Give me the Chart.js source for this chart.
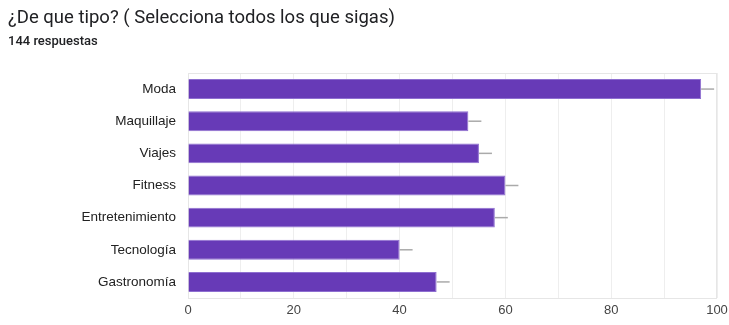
<!DOCTYPE html>
<html>
<head>
<meta charset="utf-8">
<script src="https://cdn.jsdelivr.net/npm/chart.js@4"></script>
<style>
  body { margin: 0; background: #fff; font-family: Roboto, Arial, sans-serif; }
  #wrap { position: relative; width: 729px; height: 325px; }
  #titulo { position: absolute; left: 8px; top: 6px; font-size: 18.5px; color: #202124; }
  #sub { position: absolute; left: 8px; top: 33px; font-size: 13px; color: #202124; font-weight: 500; }
  canvas { position: absolute; left: 0; top: 0; }
</style>
</head>
<body>
<div id="wrap">
  <canvas id="grafico" width="729" height="325"></canvas>
  <div id="titulo">¿De que tipo? ( Selecciona todos los que sigas)</div>
  <div id="sub">144 respuestas</div>
</div>
<script>
const categorias = ["Moda", "Maquillaje", "Viajes", "Fitness", "Entretenimiento", "Tecnología", "Gastronomía"];
const respuestas = [97, 53, 55, 60, 58, 40, 47];
const ticksX = [0, 20, 40, 60, 80, 100];

// bigotes grises al final de cada barra y marco del área
const extras = {
  id: "extras",
  beforeDatasetsDraw(chart) {
    const { ctx, chartArea: a } = chart;
    ctx.save();
    ctx.strokeStyle = "#e6e6e6";
    ctx.lineWidth = 1;
    ctx.strokeRect(a.left + 0.5, a.top + 0.5, a.right - a.left - 1, a.bottom - a.top);
    ctx.restore();
  },
  afterDatasetsDraw(chart) {
    const { ctx } = chart;
    ctx.save();
    ctx.strokeStyle = "#aaaaaa";
    ctx.lineWidth = 1.5;
    chart.getDatasetMeta(0).data.forEach((bar) => {
      ctx.beginPath();
      ctx.moveTo(bar.x, bar.y);
      ctx.lineTo(bar.x + 13, bar.y);
      ctx.stroke();
    });
    ctx.restore();
  }
};

new Chart(document.getElementById("grafico").getContext("2d"), {
  type: "bar",
  data: {
    labels: categorias,
    datasets: [{
      data: respuestas,
      backgroundColor: "#673ab7",
      borderColor: "#8e6fd0",
      borderWidth: 1,
      borderSkipped: "left",
      barPercentage: 0.62,
      categoryPercentage: 1
    }]
  },
  options: {
    indexAxis: "y",
    responsive: false,
    animation: false,
    layout: { padding: { left: 0, right: 0, top: 73, bottom: 0 } },
    plugins: { legend: { display: false }, tooltip: { enabled: false } },
    scales: {
      x: {
        min: 0,
        max: 100,
        ticks: {
          stepSize: 10,
          autoSkip: false,
          padding: 5,
          color: "#444",
          font: { family: "Liberation Sans", size: 13 },
          callback: (v) => (ticksX.includes(v) ? v : "")
        },
        grid: { color: "#eeeeee", drawTicks: false },
        border: { display: false },
        afterFit: (s) => { s.height = 27; s.paddingRight = 12; }
      },
      y: {
        ticks: {
          padding: 4,
          color: "#222",
          font: { family: "Liberation Sans", size: 13.5 }
        },
        grid: { display: false },
        border: { color: "#555", width: 1 },
        afterFit: (s) => { s.width = 188; }
      }
    }
  },
  plugins: [extras]
});
</script>
</body>
</html>
